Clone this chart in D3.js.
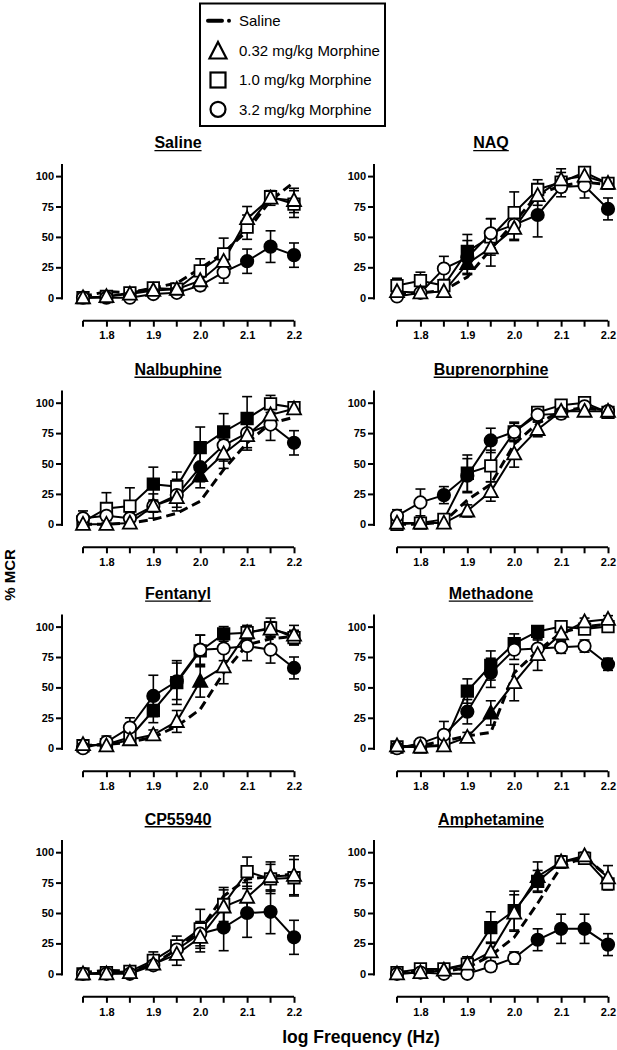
<!DOCTYPE html>
<html>
<head>
<meta charset="utf-8">
<script src="https://cdn.jsdelivr.net/npm/d3@7"></script>
<style>
  html, body { margin: 0; padding: 0; background: #fff; }
  svg { display: block; font-family: "Liberation Sans", Arial, Helvetica, sans-serif; }
</style>
</head>
<body>
<svg id="chart" width="617" height="1050"></svg>
<script>
// ---------- data ----------
const freqs = [1.75, 1.8, 1.85, 1.9, 1.95, 2.0, 2.05, 2.1, 2.15, 2.2];
const panelNames = ["Saline", "NAQ", "Nalbuphine", "Buprenorphine", "Fentanyl", "Methadone", "CP55940", "Amphetamine"];
const xTicks = [1.8, 1.9, 2.0, 2.1, 2.2];
const xTickLabels = ["1.8", "1.9", "2.0", "2.1", "2.2"];
const xMinorTicks = [1.75, 1.85, 1.95, 2.05, 2.15];
const yTicks = [0, 25, 50, 75, 100];
const legendLabels = ["Saline", "0.32 mg/kg Morphine", "1.0 mg/kg Morphine", "3.2 mg/kg Morphine"];

// Saline pretreatment (dashed curve), % MCR
const salineCurve = [
  [1, 5, 4, 8, 12, 24, 37, 55, 80, 95],
  [3, 4, 6, 17, 40, 62, 85, 92, 95, 93],
  [0, 0, 1, 4, 9, 19, 45, 67, 83, 88],
  [0, 0, 2, 20, 33, 66, 83, 93, 96, 93],
  [2, 3, 5, 9, 18, 32, 62, 85, 90, 92],
  [1, 2, 6, 10, 13, 62, 80, 95, 100, 102],
  [1, 3, 2, 8, 20, 36, 64, 78, 80, 82],
  [1, 2, 2, 5, 15, 30, 58, 88, 96, 80]
];
// 0.32 mg/kg morphine (triangles)
const morph032 = [
  [0, 1, 3, 6, 7, 14, 30, 65, 82, 80],
  [5, 4, 5, 28, 41, 57, 84, 97, 100, 94],
  [0, 0, 1, 15, 22, 40, 58, 73, 90, 95],
  [1, 1, 1, 11, 27, 58, 78, 93, 93, 93],
  [3, 2, 7, 11, 22, 55, 67, 95, 98, 93],
  [2, 1, 2, 9, 29, 54, 77, 94, 104, 106],
  [0, 0, 1, 8, 16, 30, 55, 63, 80, 81],
  [0, 1, 3, 8, 18, 50, 80, 92, 97, 79]
];
// 1.0 mg/kg morphine (squares)
const morph10 = [
  [0, 1, 4, 8, 7, 22, 36, 58, 83, 77],
  [10, 14, 10, 38, 50, 70, 89, 95, 103, 94],
  [2, 13, 15, 33, 31, 63, 76, 87, 99, 96],
  [0, 1, 4, 42, 48, 76, 92, 98, 100, 92],
  [2, 3, 9, 31, 54, 80, 94, 95, 99, 91],
  [1, 1, 3, 47, 68, 86, 96, 100, 98, 100],
  [0, 1, 2, 11, 23, 37, 57, 84, 78, 79],
  [1, 4, 4, 8, 38, 52, 76, 92, 95, 74]
];
// 3.2 mg/kg morphine (circles)
const morph32 = [
  [0, 0, 0, 3, 4, 10, 21, 30, 42, 35],
  [1, 4, 24, 33, 53, 60, 68, 91, 92, 73],
  [5, 7, 5, 15, 24, 47, 65, 75, 82, 67],
  [7, 18, 24, 40, 69, 76, 90, 91, 97, 93],
  [0, 5, 17, 43, 55, 81, 82, 84, 81, 66],
  [0, 4, 11, 30, 62, 81, 82, 83, 84, 69],
  [0, 0, 0, 7, 20, 33, 38, 50, 51, 30],
  [0, 1, 0, 0, 6, 13, 28, 37, 37, 24]
];
// SEM
const err032 = [
  [1, 2, 2, 3, 3, 5, 6, 10, 6, 10],
  [4, 2, 3, 8, 15, 10, 8, 9, 5, 3],
  [1, 1, 2, 5, 8, 10, 12, 12, 5, 4],
  [1, 1, 1, 5, 8, 11, 6, 3, 4, 3],
  [2, 2, 3, 4, 9, 13, 14, 6, 6, 8],
  [1, 1, 2, 4, 10, 15, 13, 5, 3, 3],
  [1, 2, 2, 4, 9, 12, 14, 12, 12, 16],
  [1, 2, 2, 6, 8, 15, 12, 5, 3, 10]
];
const err10 = [
  [1, 2, 2, 3, 3, 10, 13, 10, 5, 11],
  [6, 7, 5, 14, 15, 17, 8, 8, 4, 3],
  [2, 13, 15, 14, 12, 17, 15, 18, 7, 4],
  [1, 1, 2, 15, 13, 8, 4, 3, 3, 3],
  [2, 3, 6, 10, 18, 13, 6, 5, 8, 6],
  [1, 1, 2, 10, 12, 8, 4, 3, 3, 3],
  [1, 2, 2, 7, 8, 16, 14, 12, 12, 15],
  [1, 2, 2, 6, 13, 16, 9, 5, 4, 4]
];
const err32 = [
  [1, 1, 1, 2, 2, 4, 9, 10, 13, 10],
  [3, 3, 10, 14, 12, 12, 18, 8, 10, 9],
  [6, 4, 5, 10, 13, 12, 13, 12, 13, 10],
  [5, 11, 7, 14, 10, 7, 5, 4, 3, 3],
  [2, 5, 8, 17, 15, 12, 10, 12, 11, 9],
  [1, 2, 11, 10, 12, 8, 7, 5, 5, 5],
  [1, 1, 1, 3, 6, 10, 19, 20, 18, 14],
  [1, 1, 1, 3, 4, 5, 9, 12, 12, 9]
];
// indices of filled (significant) points
const filled032 = [[], [3], [5], [], [5], [4], [], [6]];
const filled10 = [[], [3], [3, 5, 6, 7], [3], [3, 4, 5, 6], [3, 4, 5, 6], [], [4, 5, 6]];
const filled32 = [[7, 8, 9], [3, 6, 9], [5, 9], [2, 3, 4], [3, 4, 9], [3, 4, 9], [6, 7, 8, 9], [6, 7, 8, 9]];

// ---------- layout ----------
const svg = d3.select("#chart");
const colAxisX = [62, 374];
const colX0 = [83, 397];
const plotW = 211;
const rowY0 = [297.7, 524.3, 748.2, 973.8];
const yPer100 = 121.6;

function symbolPath(type, size) {
  const s = size;
  if (type === "square") return `M${-s/2},${-s/2}H${s/2}V${s/2}H${-s/2}Z`;
  if (type === "triangle") { const h = s * 0.95; return `M0,${-h*0.6}L${s/2+0.5},${h*0.45}L${-s/2-0.5},${h*0.45}Z`; }
  return null;
}

panelNames.forEach((name, p) => {
  const col = p % 2, row = Math.floor(p / 2);
  const x = d3.scaleLinear().domain([1.75, 2.2]).range([colX0[col], colX0[col] + plotW]);
  const y = d3.scaleLinear().domain([0, 100]).range([rowY0[row], rowY0[row] - yPer100]);
  const g = svg.append("g");

  // title
  const tx = (colAxisX[col] + colX0[col] + plotW) / 2;
  const title = g.append("text").attr("x", tx).attr("y", y(100) - 27.7)
    .attr("text-anchor", "middle").attr("font-size", 16).attr("font-weight", "bold").text(name);
  const tw = title.node().getComputedTextLength();
  g.append("line").attr("x1", tx - tw / 2).attr("x2", tx + tw / 2)
    .attr("y1", y(100) - 25.5).attr("y2", y(100) - 25.5).attr("stroke", "#000").attr("stroke-width", 1.4);

  // y axis
  const yAxis = d3.axisLeft(y).tickValues(yTicks).tickSize(6).tickPadding(2).tickFormat(d3.format("d"));
  const ya = g.append("g").attr("transform", `translate(${colAxisX[col]},0)`).call(yAxis);
  ya.select(".domain").attr("d", `M0,${y(-1.5)}V${y(110)}`).attr("stroke-width", 2);
  ya.selectAll(".tick line").attr("stroke-width", 2);
  ya.selectAll(".tick text").attr("font-size", 11).attr("font-weight", "bold")
    .attr("font-family", "Liberation Sans, Arial, sans-serif");

  // x axis (offset)
  const axY = rowY0[row] + 23;
  const xAxis = d3.axisBottom(x).tickValues(xTicks).tickSize(6).tickPadding(5)
    .tickFormat((d, i) => xTickLabels[i]);
  const xa = g.append("g").attr("transform", `translate(0,${axY})`).call(xAxis);
  xa.select(".domain").attr("d", `M${x(1.75)},0H${x(2.2)}`).attr("stroke-width", 2);
  xa.selectAll(".tick line").attr("stroke-width", 2);
  xa.selectAll(".tick text").attr("font-size", 11).attr("font-weight", "bold")
    .attr("font-family", "Liberation Sans, Arial, sans-serif");
  xa.selectAll(".minor").data(xMinorTicks).enter().append("line")
    .attr("x1", d => x(d)).attr("x2", d => x(d)).attr("y1", 0).attr("y2", 6)
    .attr("stroke", "#000").attr("stroke-width", 2);

  const line = d3.line().x((d, i) => x(freqs[i])).y(d => y(d));

  const series = [
    { vals: morph10[p], err: err10[p], filled: filled10[p], type: "square" },
    { vals: morph32[p], err: err32[p], filled: filled32[p], type: "circle" },
    { vals: morph032[p], err: err032[p], filled: filled032[p], type: "triangle" }
  ];

  // connecting lines
  series.forEach(s => {
    g.append("path").datum(s.vals).attr("d", line).attr("fill", "none")
      .attr("stroke", "#000").attr("stroke-width", 2);
  });
  // saline dashed
  g.append("path").datum(salineCurve[p]).attr("d", line).attr("fill", "none")
    .attr("stroke", "#000").attr("stroke-width", 3).attr("stroke-dasharray", "9,5");

  // error bars
  series.forEach(s => {
    s.vals.forEach((v, i) => {
      const cx = x(freqs[i]);
      const e = s.err[i];
      g.append("line").attr("x1", cx).attr("x2", cx).attr("y1", y(v - e)).attr("y2", y(v + e))
        .attr("stroke", "#000").attr("stroke-width", 1.6);
      [v - e, v + e].forEach(ev => {
        g.append("line").attr("x1", cx - 5).attr("x2", cx + 5).attr("y1", y(ev)).attr("y2", y(ev))
          .attr("stroke", "#000").attr("stroke-width", 1.6);
      });
    });
  });

  // markers
  series.forEach(s => {
    s.vals.forEach((v, i) => {
      const cx = x(freqs[i]), cy = y(v);
      const fill = s.filled.includes(i) ? "#000" : "#fff";
      if (s.type === "circle") {
        g.append("circle").attr("cx", cx).attr("cy", cy).attr("r", 6.2)
          .attr("fill", fill).attr("stroke", "#000").attr("stroke-width", 1.8);
      } else {
        g.append("path").attr("d", symbolPath(s.type, s.type === "square" ? 11.5 : 13))
          .attr("transform", `translate(${cx},${cy})`)
          .attr("fill", fill).attr("stroke", "#000").attr("stroke-width", 1.8);
      }
    });
  });
});

// axis titles
svg.append("text").attr("transform", "translate(15,575) rotate(-90)")
  .attr("text-anchor", "middle").attr("font-size", 15).attr("font-weight", "bold").text("% MCR");
svg.append("text").attr("x", 361).attr("y", 1043)
  .attr("text-anchor", "middle").attr("font-size", 17.5).attr("font-weight", "bold").text("log Frequency (Hz)");

// legend
const lg = svg.append("g");
lg.append("rect").attr("x", 200).attr("y", 3.5).attr("width", 185).attr("height", 122.5)
  .attr("fill", "#fff").attr("stroke", "#000").attr("stroke-width", 2);
const legY = [20.7, 50.7, 80, 109.3];
legendLabels.forEach((lab, i) => {
  lg.append("text").attr("x", 239).attr("y", legY[i] + 5.3).attr("font-size", 15).text(lab);
});
lg.append("line").attr("x1", 208).attr("x2", 222).attr("y1", legY[0]).attr("y2", legY[0])
  .attr("stroke", "#000").attr("stroke-width", 4).attr("stroke-linecap", "round");
lg.append("circle").attr("cx", 229).attr("cy", legY[0]).attr("r", 2).attr("fill", "#000");
lg.append("path").attr("d", "M218,42L226.5,58.5L209.5,58.5Z").attr("fill", "#fff")
  .attr("stroke", "#000").attr("stroke-width", 2.2);
lg.append("rect").attr("x", 210.5).attr("y", 72.5).attr("width", 15).attr("height", 15)
  .attr("fill", "#fff").attr("stroke", "#000").attr("stroke-width", 2.2);
lg.append("circle").attr("cx", 218).attr("cy", legY[3]).attr("r", 7.5)
  .attr("fill", "#fff").attr("stroke", "#000").attr("stroke-width", 2.2);
</script>
</body>
</html>
